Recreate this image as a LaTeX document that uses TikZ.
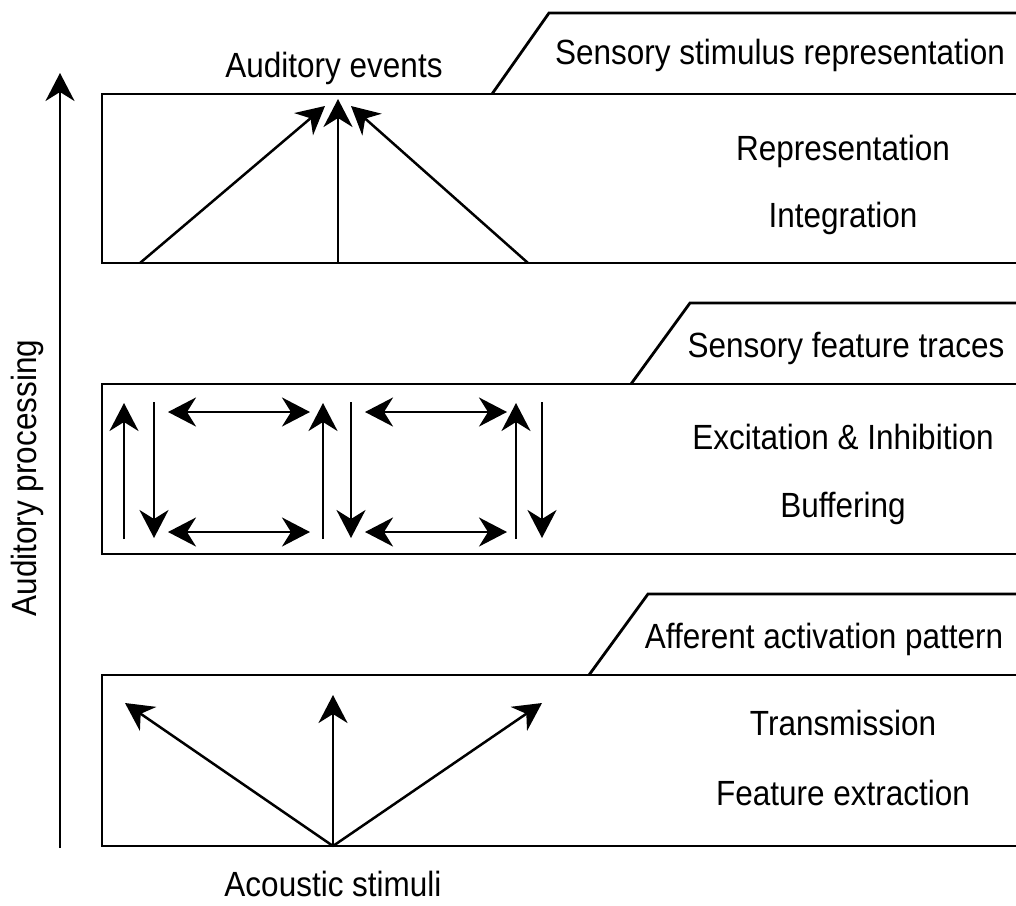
\documentclass[tikz,border=0pt]{standalone}
\usepackage{fontspec}
\setmainfont{Liberation Sans}[FakeStretch=0.9]
\usetikzlibrary{arrows.meta}
\begin{document}
\begin{tikzpicture}[x=1pt,y=-1pt,
  frame/.style={line width=2.8pt},
  arr/.style={line width=2.5pt,-{Stealth[length=28pt,width=29pt,inset=9pt]}},
  darr/.style={line width=2.5pt,{Stealth[length=28pt,width=29pt,inset=9pt]}-{Stealth[length=28pt,width=29pt,inset=9pt]}},
  lbl/.style={inner sep=0pt,anchor=base,font=\fontsize{35}{40}\selectfont}]
\useasboundingbox (0,0) rectangle (1016,905);
% boxes and tabs
\draw[frame] (1018,94) -- (102,94) -- (102,263) -- (1018,263);
\draw[frame] (492,94) -- (549,13) -- (1018,13);
\draw[frame] (1018,384) -- (102,384) -- (102,554) -- (1018,554);
\draw[frame] (631,384) -- (690,303) -- (1018,303);
\draw[frame] (1018,675) -- (102,675) -- (102,846) -- (1018,846);
\draw[frame] (589,675) -- (648,594) -- (1018,594);
% labels
\node[lbl] (tabA) at (780,64) {Sensory stimulus representation};
\node[lbl] (events) at (334,77) {Auditory events};
\node[lbl] (repr) at (843,160) {Representation};
\node[lbl] (integ) at (843,227) {Integration};
\node[lbl] (tabB) at (846,357) {Sensory feature traces};
\node[lbl] (exc) at (843,449) {Excitation \& Inhibition};
\node[lbl] (buf) at (843,517) {Buffering};
\node[lbl] (tabC) at (824,648) {Afferent activation pattern};
\node[lbl] (trans) at (843,735) {Transmission};
\node[lbl] (feat) at (843,805) {Feature extraction};
\node[lbl] (acou) at (333,896) {Acoustic stimuli};
\node[lbl,rotate=90] (proc) at (36,478) {Auditory processing};
% axis
\coordinate (ax0) at (60,848);
\coordinate (ax1) at (60,73);
\draw[arr] (ax0) -- (ax1);
% top box arrows
\coordinate (t1) at (140,263);
\coordinate (t2) at (338,263);
\coordinate (t3) at (528,263);
\coordinate (h1) at (325,106);
\coordinate (h2) at (338,99);
\coordinate (h3) at (351,106);
\draw[arr] (t1) -- (h1);
\draw[arr] (t2) -- (h2);
\draw[arr] (t3) -- (h3);
% middle box arrows
\foreach \u/\d/\hl/\hr [count=\i] in {124/154/168/310, 323/351/365/507} {
  \coordinate (ua\i) at (\u,539); \coordinate (ub\i) at (\u,403);
  \coordinate (da\i) at (\d,402); \coordinate (db\i) at (\d,538);
  \coordinate (la\i) at (\hl,412); \coordinate (lb\i) at (\hr,412);
  \coordinate (ma\i) at (\hl,532); \coordinate (mb\i) at (\hr,532);
  \draw[arr] (ua\i) -- (ub\i);
  \draw[arr] (da\i) -- (db\i);
  \draw[darr] (la\i) -- (lb\i);
  \draw[darr] (ma\i) -- (mb\i);
}
\coordinate (ua3) at (516,539); \coordinate (ub3) at (516,403);
\coordinate (da3) at (542,402); \coordinate (db3) at (542,538);
\draw[arr] (ua3) -- (ub3);
\draw[arr] (da3) -- (db3);
% bottom box arrows
\coordinate (src) at (333,846);
\coordinate (b1) at (125,703);
\coordinate (b2) at (333,695);
\coordinate (b3) at (542,703);
\draw[arr] (src) -- (b1);
\draw[arr] (src) -- (b2);
\draw[arr] (src) -- (b3);
\end{tikzpicture}
\end{document}
